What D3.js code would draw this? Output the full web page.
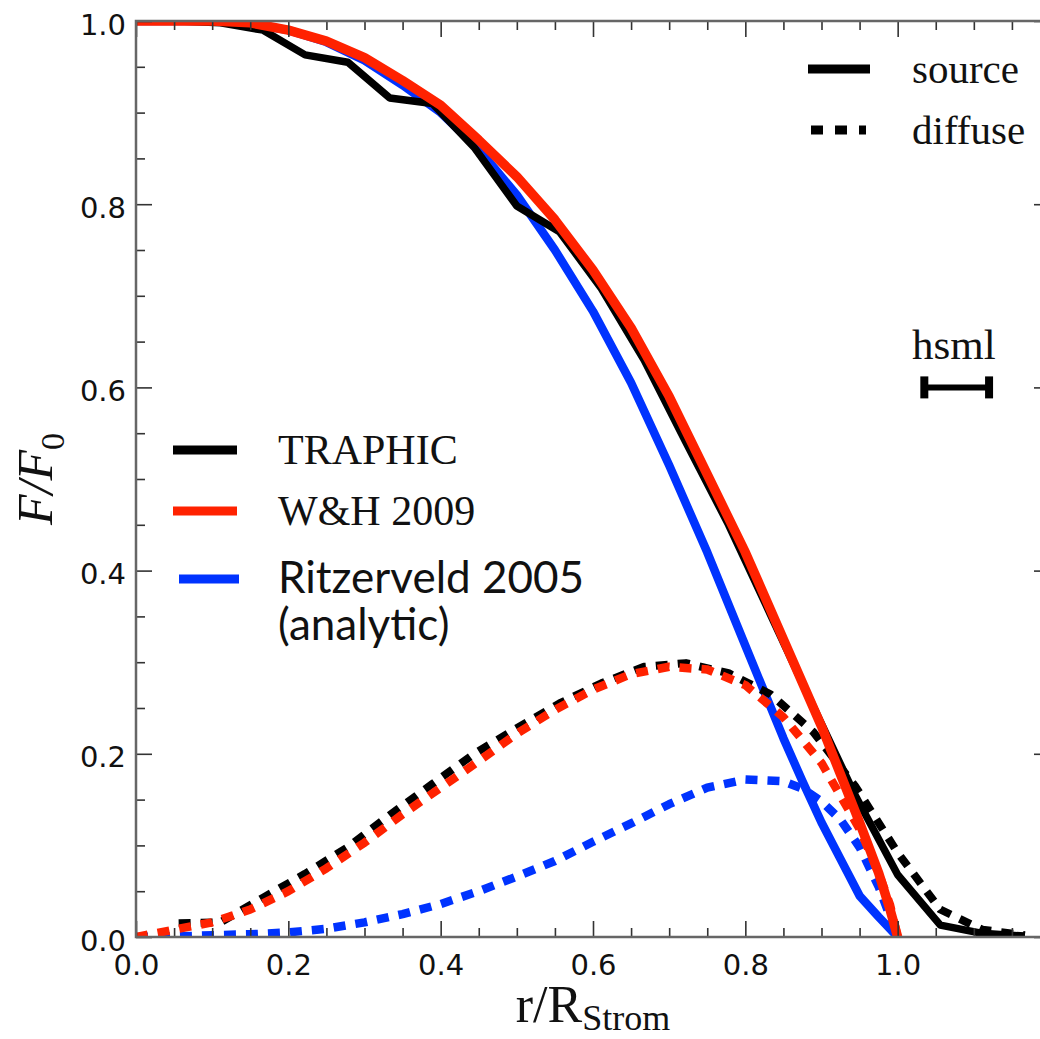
<!DOCTYPE html>
<html>
<head>
<meta charset="utf-8">
<script src="https://cdn.jsdelivr.net/npm/d3@7"></script>
<style>
  body { margin: 0; background: #fff; }
  svg { display: block; }
</style>
</head>
<body>
<div id="chart"></div>
<script>
// r / R_Strom sample positions
var xTraphic = [0, 0.056, 0.111, 0.167, 0.222, 0.278, 0.333, 0.389, 0.444, 0.5, 0.556,
                0.611, 0.667, 0.722, 0.778, 0.833, 0.889, 0.944, 1.0, 1.056, 1.111, 1.167];
var traphicSource = [1.0, 1.0, 0.998, 0.99, 0.963, 0.955, 0.916, 0.91, 0.862, 0.798, 0.77,
                     0.708, 0.63, 0.54, 0.45, 0.352, 0.252, 0.155, 0.068, 0.013, 0.004, 0.001];
var traphicDiffuse = [null, 0.015, 0.016, 0.043, 0.069, 0.098, 0.133, 0.167, 0.2, 0.228, 0.255,
                      0.277, 0.295, 0.299, 0.288, 0.265, 0.224, 0.165, 0.092, 0.03, 0.008, 0.002];

var xWH = [0, 0.05, 0.1, 0.15, 0.2, 0.25, 0.3, 0.35, 0.4, 0.45, 0.5, 0.55, 0.6, 0.65,
           0.7, 0.75, 0.8, 0.85, 0.9, 0.95, 0.975, 0.99, 1.0];
var whSource = [1.0, 1.0, 1.0, 0.998, 0.99, 0.978, 0.96, 0.935, 0.908, 0.87, 0.83, 0.783, 0.728, 0.665,
                0.59, 0.505, 0.42, 0.325, 0.23, 0.125, 0.07, 0.03, 0.0];
var whDiffuse = [0.0, 0.008, 0.016, 0.03, 0.05, 0.075, 0.103, 0.134, 0.163, 0.192, 0.222, 0.248, 0.27, 0.287,
                 0.295, 0.292, 0.275, 0.24, 0.19, 0.118, 0.07, 0.035, 0.0];

var xRitz = [0, 0.05, 0.1, 0.15, 0.2, 0.25, 0.3, 0.35, 0.4, 0.45, 0.5, 0.55, 0.6, 0.65,
             0.7, 0.75, 0.8, 0.85, 0.875, 0.9, 0.925, 0.95, 0.975, 1.0];
var ritzSource = [1.0, 1.0, 1.0, 0.997, 0.99, 0.977, 0.957, 0.93, 0.9, 0.86, 0.81, 0.75, 0.683, 0.605,
                  0.515, 0.42, 0.318, 0.217, 0.17, 0.125, 0.085, 0.045, 0.022, 0.0];
var ritzDiffuse = [0.0, 0.0005, 0.002, 0.003, 0.005, 0.009, 0.016, 0.025, 0.036, 0.05, 0.066, 0.083, 0.104, 0.124,
                   0.145, 0.163, 0.172, 0.17, 0.162, 0.148, 0.128, 0.098, 0.055, 0.0];

var xMajor = [0, 0.2, 0.4, 0.6, 0.8, 1.0];
var xMinor = [0.05, 0.1, 0.15, 0.25, 0.3, 0.35, 0.45, 0.5, 0.55, 0.65, 0.7, 0.75, 0.85, 0.9, 0.95, 1.05, 1.1, 1.15];
var yMajor = [0, 0.2, 0.4, 0.6, 0.8, 1.0];
var yMinor = [0.05, 0.1, 0.15, 0.25, 0.3, 0.35, 0.45, 0.5, 0.55, 0.65, 0.7, 0.75, 0.85, 0.9, 0.95];

var hsmlBar = [1.035, 1.12];
var hsmlY = 0.6;

var w = 1040, h = 1039;
var pLeft = 136, pTop = 21, pRight = 1050, pBottom = 937;
var red = '#ff2200', blue = '#0033ff';
var serif = '"Liberation Serif", "Times New Roman", serif';
var sans = '"DejaVu Sans", sans-serif';
var calibriLike = 'Lato, "Open Sans", sans-serif';

var x = d3.scaleLinear().domain([0, 1.2]).range([pLeft, pRight]);
var y = d3.scaleLinear().domain([0, 1]).range([pBottom, pTop]);

var svg = d3.select('#chart')
  .append('svg')
    .attr('width', w)
    .attr('height', h);

svg.append('clipPath').attr('id', 'plot')
  .append('rect')
    .attr('x', pLeft).attr('y', pTop)
    .attr('width', pRight - pLeft).attr('height', pBottom - pTop);

function series(xs, ys) {
  return xs.map(function (v, i) { return [v, ys[i]]; });
}

var line = d3.line()
  .defined(function (d) { return d[1] != null; })
  .x(function (d) { return x(d[0]); })
  .y(function (d) { return y(d[1]); });

var curves = [
  { d: series(xRitz, ritzSource), color: blue, dash: null, sw: 8.5 },
  { d: series(xRitz, ritzDiffuse), color: blue, dash: '12,10', sw: 8.5 },
  { d: series(xTraphic, traphicSource), color: '#000', dash: null, sw: 7.5 },
  { d: series(xTraphic, traphicDiffuse), color: '#000', dash: '12,10', sw: 8 },
  { d: series(xWH, whSource), color: red, dash: null, sw: 9.5 },
  { d: series(xWH, whDiffuse), color: red, dash: '12,10', sw: 8.5 }
];

var plot = svg.append('g').attr('clip-path', 'url(#plot)');
plot.selectAll('path')
  .data(curves)
  .enter()
  .append('path')
    .attr('d', function (c) { return line(c.d); })
    .attr('fill', 'none')
    .attr('stroke', function (c) { return c.color; })
    .attr('stroke-width', function (c) { return c.sw; })
    .attr('stroke-linejoin', 'round')
    .attr('stroke-dasharray', function (c) { return c.dash; });

// axes, ticks pointing inward
function styleAxis(g) {
  g.select('.domain').remove();
  g.selectAll('.tick line').attr('stroke', '#333').attr('stroke-width', 1.6);
  g.selectAll('.tick text')
    .attr('fill', '#111')
    .style('font-family', sans)
    .style('font-size', '29px');
}

svg.append('g')
  .attr('transform', 'translate(0,' + pBottom + ')')
  .call(d3.axisBottom(x).tickValues(xMajor).tickFormat(d3.format('.1f')).tickSizeInner(-16).tickSizeOuter(0).tickPadding(17))
  .call(styleAxis);
svg.append('g')
  .attr('transform', 'translate(0,' + pBottom + ')')
  .call(d3.axisBottom(x).tickValues(xMinor).tickFormat('').tickSizeInner(-9).tickSizeOuter(0))
  .call(styleAxis);
svg.append('g')
  .attr('transform', 'translate(0,' + pTop + ')')
  .call(d3.axisTop(x).tickValues(xMajor).tickFormat('').tickSizeInner(-16).tickSizeOuter(0))
  .call(styleAxis);
svg.append('g')
  .attr('transform', 'translate(0,' + pTop + ')')
  .call(d3.axisTop(x).tickValues(xMinor).tickFormat('').tickSizeInner(-9).tickSizeOuter(0))
  .call(styleAxis);

svg.append('g')
  .attr('transform', 'translate(' + pLeft + ',0)')
  .call(d3.axisLeft(y).tickValues(yMajor).tickFormat(d3.format('.1f')).tickSizeInner(-16).tickSizeOuter(0).tickPadding(10))
  .call(styleAxis)
  .selectAll('.tick text').attr('dy', '0.45em');
svg.append('g')
  .attr('transform', 'translate(' + pLeft + ',0)')
  .call(d3.axisLeft(y).tickValues(yMinor).tickFormat('').tickSizeInner(-9).tickSizeOuter(0))
  .call(styleAxis);
svg.append('g')
  .attr('transform', 'translate(' + pRight + ',0)')
  .call(d3.axisRight(y).tickValues(yMajor).tickFormat('').tickSizeInner(-16).tickSizeOuter(0))
  .call(styleAxis);
svg.append('g')
  .attr('transform', 'translate(' + pRight + ',0)')
  .call(d3.axisRight(y).tickValues(yMinor).tickFormat('').tickSizeInner(-9).tickSizeOuter(0))
  .call(styleAxis);

svg.append('rect')
  .attr('x', pLeft).attr('y', pTop)
  .attr('width', pRight - pLeft).attr('height', pBottom - pTop)
  .attr('fill', 'none')
  .attr('stroke', '#666')
  .attr('stroke-width', 2.5);

// axis titles
var xt = svg.append('text')
  .attr('x', (pLeft + pRight) / 2)
  .attr('y', 1022)
  .attr('text-anchor', 'middle')
  .style('font-family', serif)
  .style('font-size', '52px')
  .attr('fill', '#111');
xt.append('tspan').text('r/R');
xt.append('tspan').attr('dy', 8).style('font-size', '36px').text('Strom');

var yt = svg.append('text')
  .attr('transform', 'translate(52,' + (pTop + pBottom) / 2 + ') rotate(-90)')
  .attr('text-anchor', 'middle')
  .style('font-family', serif)
  .style('font-size', '50px')
  .attr('fill', '#111');
yt.append('tspan').style('font-style', 'italic').text('F/F');
yt.append('tspan').attr('dy', 12).style('font-size', '34px').text('0');

// legend: line styles
var styleLegend = [
  { label: 'source', dash: null, y: 69, x1: 808, x2: 870 },
  { label: 'diffuse', dash: '12,12', y: 130, x1: 811, x2: 866 }
];
styleLegend.forEach(function (s) {
  svg.append('line')
    .attr('x1', s.x1).attr('x2', s.x2)
    .attr('y1', s.y).attr('y2', s.y)
    .attr('stroke', '#000').attr('stroke-width', 9)
    .attr('stroke-dasharray', s.dash);
  svg.append('text')
    .attr('x', 912).attr('y', s.y + 14)
    .style('font-family', serif).style('font-size', '41px')
    .attr('fill', '#111')
    .text(s.label);
});

// legend: methods
var methodLegend = [
  { label: 'TRAPHIC', color: '#000', y: 450, x1: 173, x2: 237, font: serif, size: 42 },
  { label: 'W&H 2009', color: red, y: 511, x1: 173, x2: 237, font: serif, size: 42 },
  { label: 'Ritzerveld 2005', color: blue, y: 579, x1: 179, x2: 239, font: calibriLike, size: 44 }
];
methodLegend.forEach(function (m) {
  svg.append('line')
    .attr('x1', m.x1).attr('x2', m.x2)
    .attr('y1', m.y).attr('y2', m.y)
    .attr('stroke', m.color).attr('stroke-width', 9);
  svg.append('text')
    .attr('x', 278).attr('y', m.y + 14)
    .style('font-family', m.font).style('font-size', m.size + 'px')
    .attr('fill', '#111')
    .text(m.label);
});
svg.append('text')
  .attr('x', 278).attr('y', 640)
  .style('font-family', calibriLike).style('font-size', '44px')
  .attr('fill', '#111')
  .text('(analytic)');

// smoothing length marker
svg.append('text')
  .attr('x', 912).attr('y', 359)
  .style('font-family', serif).style('font-size', '43px')
  .attr('fill', '#111')
  .text('hsml');
svg.append('line')
  .attr('x1', x(hsmlBar[0])).attr('x2', x(hsmlBar[1]))
  .attr('y1', y(hsmlY)).attr('y2', y(hsmlY))
  .attr('stroke', '#000').attr('stroke-width', 6);
svg.selectAll('.cap')
  .data(hsmlBar)
  .enter()
  .append('line')
    .attr('class', 'cap')
    .attr('x1', function (d) { return x(d); })
    .attr('x2', function (d) { return x(d); })
    .attr('y1', y(hsmlY) - 11)
    .attr('y2', y(hsmlY) + 11)
    .attr('stroke', '#000').attr('stroke-width', 8);
</script>
</body>
</html>
